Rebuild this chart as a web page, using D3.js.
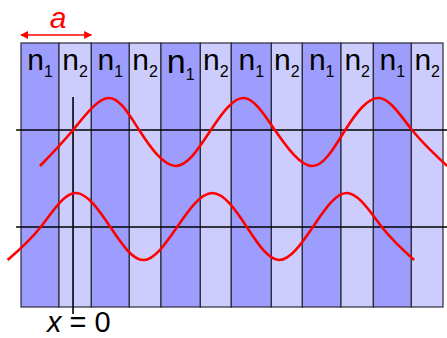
<!DOCTYPE html>
<html>
<head>
<meta charset="utf-8">
<script src="https://cdn.jsdelivr.net/npm/d3@7"></script>
<style>
  body { margin: 0; background: #fff; }
  svg { display: block; font-family: "Liberation Sans", Arial, sans-serif; }
</style>
</head>
<body>
<script>
// positions in units of the lattice period a, x = 0 at the marked line
const boundaries = [-0.74, -0.20, 0.26, 0.80, 1.25, 1.81, 2.25, 2.82, 3.26, 3.81, 4.27, 4.81, 5.26];
const layers = ["n1", "n2", "n1", "n2", "n1", "n2", "n1", "n2", "n1", "n2", "n1", "n2"];

// upper mode (field amplitude vs x)
const topX = [-0.47, 0, 0.50, 0.94, 1.46, 1.96, 2.42, 2.87, 3.40, 3.87, 4.35, 4.82, 5.32];
const topY = [-1.09, 0, 0.97, 0, -1.09, 0, 0.97, 0, -1.09, 0, 0.97, 0, -1.09];

// lower mode
const botX = [-0.93, -0.46, 0.03, 0.53, 1.00, 1.48, 1.98, 2.47, 2.93, 3.41, 3.90, 4.39, 4.85];
const botY = [-1, 0, 1.03, 0, -1, 0, 1.03, 0, -1, 0, 1.03, 0, -1];

const width = 447, height = 338;
const colors = { n1: "#9d9dfd", n2: "#cdcdfd" };

const svg = d3.select("body").append("svg")
  .attr("width", width)
  .attr("height", height);

const x = d3.scaleLinear().domain([-0.74, 5.26]).range([21, 443]);
const yTop = d3.scaleLinear().domain([-1, 1]).range([163, 97]);
const yBot = d3.scaleLinear().domain([-1, 1]).range([260, 194]);

const crystalTop = 43, crystalBottom = 307;

// stripes
const stripes = layers.map((n, i) => ({ n: n, x0: boundaries[i], x1: boundaries[i + 1], i: i }));

svg.append("g").selectAll("rect")
  .data(stripes)
  .enter()
  .append("rect")
  .attr("x", d => x(d.x0))
  .attr("y", crystalTop)
  .attr("width", d => x(d.x1) - x(d.x0))
  .attr("height", crystalBottom - crystalTop)
  .attr("fill", d => colors[d.n])
  .attr("stroke", "#2a2a3a")
  .attr("stroke-width", 1.2);

// layer labels
const labels = svg.append("g").selectAll("text")
  .data(stripes)
  .enter()
  .append("text")
  .attr("x", d => x((d.x0 + d.x1) / 2))
  .attr("y", d => d.i === 4 ? 73 : 70)
  .attr("text-anchor", "middle")
  .attr("fill", "#000")
  .attr("font-size", d => d.i === 4 ? 34 : 30);

labels.append("tspan").text("n");
labels.append("tspan")
  .attr("font-size", 16)
  .attr("dy", 7)
  .text(d => d.n.slice(1));

// axis lines for the two modes
svg.append("line")
  .attr("x1", x(-0.81)).attr("x2", width)
  .attr("y1", yTop(0)).attr("y2", yTop(0))
  .attr("stroke", "#000").attr("stroke-width", 1.6);

svg.append("line")
  .attr("x1", x(-0.81)).attr("x2", width)
  .attr("y1", yBot(0)).attr("y2", yBot(0))
  .attr("stroke", "#000").attr("stroke-width", 1.6);

// x = 0 marker
svg.append("line")
  .attr("x1", x(0)).attr("x2", x(0))
  .attr("y1", 97).attr("y2", 314)
  .attr("stroke", "#000").attr("stroke-width", 1.6);

const lbl = svg.append("text")
  .attr("x", 47)
  .attr("y", 332)
  .attr("font-size", 29)
  .attr("fill", "#000");
lbl.append("tspan").attr("font-style", "italic").text("x");
lbl.append("tspan").text(" = 0");

// waves
const line = yScale => d3.line()
  .x(d => x(d[0]))
  .y(d => yScale(d[1]))
  .curve(d3.curveNatural);

svg.append("path")
  .datum(d3.zip(topX, topY))
  .attr("d", line(yTop))
  .attr("fill", "none")
  .attr("stroke", "#ff0000")
  .attr("stroke-width", 2.6);

svg.append("path")
  .datum(d3.zip(botX, botY))
  .attr("d", line(yBot))
  .attr("fill", "none")
  .attr("stroke", "#ff0000")
  .attr("stroke-width", 2.6);

// lattice constant arrow
const defs = svg.append("defs");
["start", "end"].forEach(k => {
  defs.append("marker")
    .attr("id", "arrow-" + k)
    .attr("viewBox", "0 0 10 10")
    .attr("refX", k === "end" ? 9 : 1)
    .attr("refY", 5)
    .attr("markerWidth", 5)
    .attr("markerHeight", 5)
    .attr("orient", "auto")
    .append("path")
    .attr("d", k === "end" ? "M0,0L10,5L0,10Z" : "M10,0L0,5L10,10Z")
    .attr("fill", "#ff0000");
});

svg.append("line")
  .attr("x1", x(boundaries[0])).attr("x2", x(boundaries[0] + 1))
  .attr("y1", 35).attr("y2", 35)
  .attr("stroke", "#ff0000")
  .attr("stroke-width", 1.6)
  .attr("marker-start", "url(#arrow-start)")
  .attr("marker-end", "url(#arrow-end)");

svg.append("text")
  .attr("x", x(boundaries[0] + 0.5) + 2)
  .attr("y", 28)
  .attr("text-anchor", "middle")
  .attr("font-size", 30)
  .attr("font-style", "italic")
  .attr("fill", "#ff0000")
  .text("a");
</script>
</body>
</html>
